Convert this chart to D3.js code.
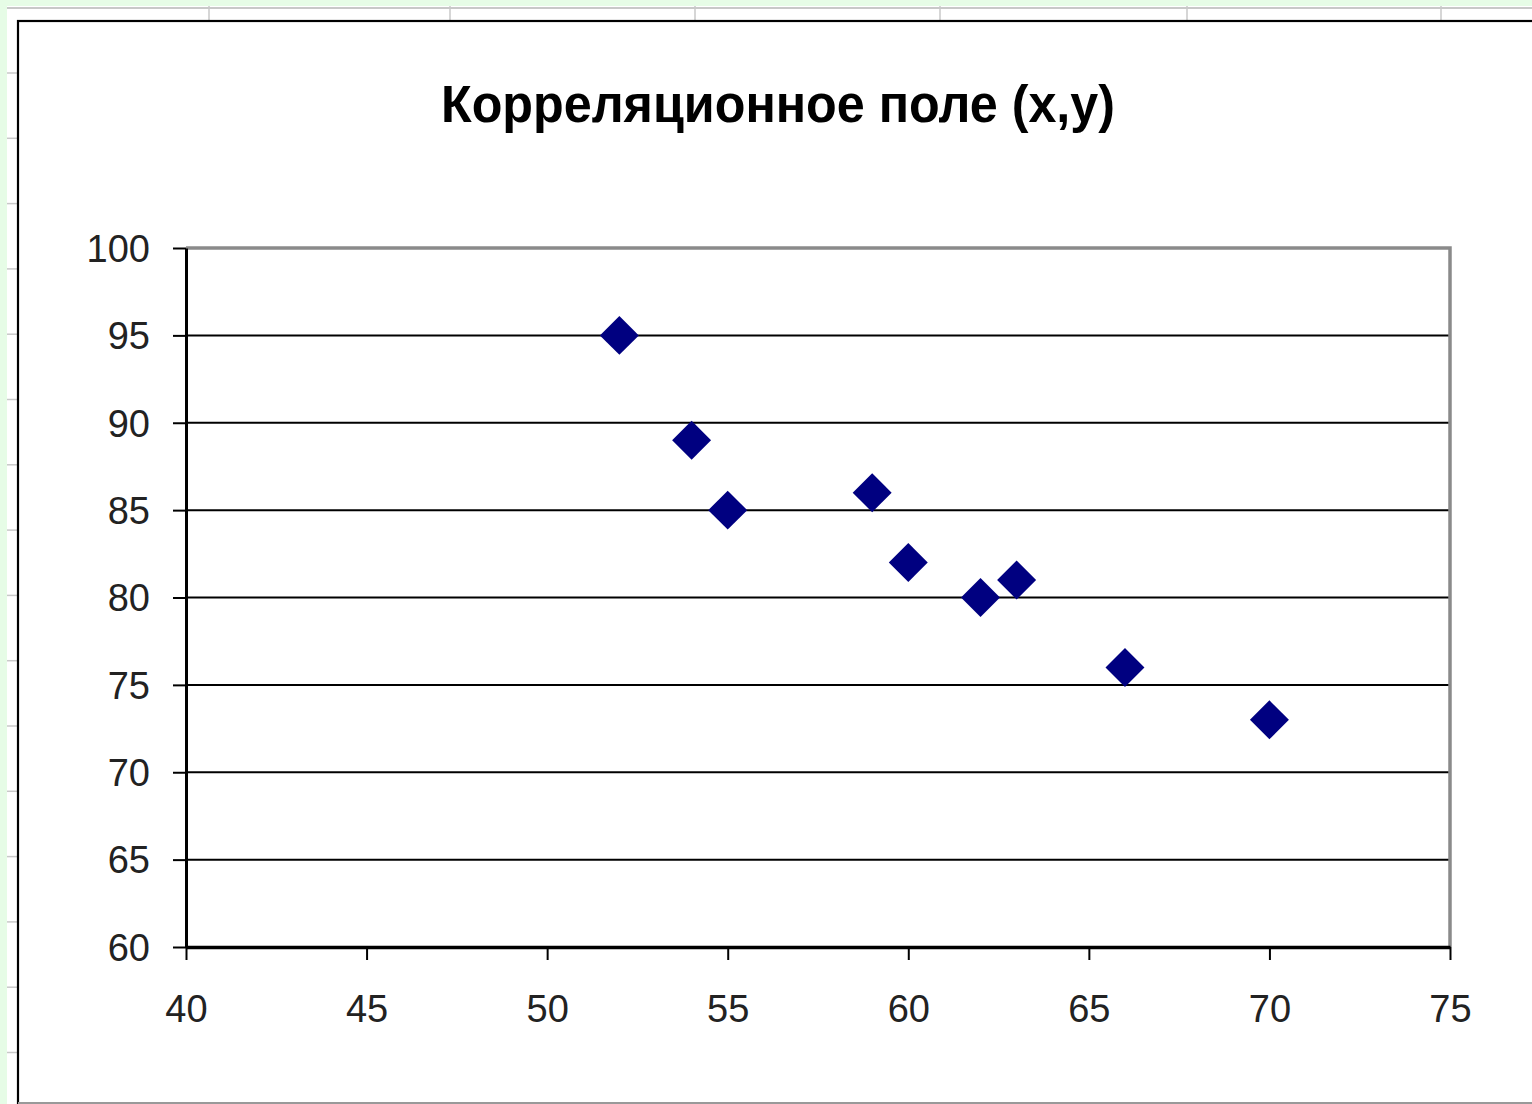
<!DOCTYPE html>
<html>
<head>
<meta charset="utf-8">
<script src="https://cdn.jsdelivr.net/npm/d3@7"></script>
<style>
  html, body { margin: 0; padding: 0; background: #e6fce6; overflow: hidden; }
  svg { display: block; }
</style>
</head>
<body>
<svg id="chart" width="1532" height="1104"></svg>
<script>
// ---- data ----
const title = "Корреляционное поле (x,y)";
const xValues = [52, 54, 55, 59, 60, 62, 63, 66, 70];
const yValues = [95, 89, 85, 86, 82, 80, 81, 76, 73];
const xTicks = [40, 45, 50, 55, 60, 65, 70, 75];
const yTicks = [60, 65, 70, 75, 80, 85, 90, 95, 100];
const xDomain = [40, 75];
const yDomain = [60, 100];

// ---- layout ----
const W = 1532, H = 1104;
const plot = { left: 186, right: 1450, top: 248, bottom: 947 };
const svg = d3.select("#chart");

// spreadsheet background (cells peeking around the chart object)
svg.append("rect").attr("x", 0).attr("y", 0).attr("width", W).attr("height", H).attr("fill", "#e6fce6");
svg.append("rect").attr("x", 7).attr("y", 6).attr("width", W - 7).attr("height", H - 6).attr("fill", "#ffffff");
svg.append("line").attr("x1", 7).attr("x2", W).attr("y1", 8).attr("y2", 8)
  .attr("stroke", "#c8c8c8").attr("stroke-width", 2);
const colLines = [209, 450, 695, 940, 1187, 1441];
svg.selectAll(".col").data(colLines).join("line")
  .attr("x1", d => d).attr("x2", d => d).attr("y1", 6).attr("y2", 21)
  .attr("stroke", "#c8c8c8").attr("stroke-width", 1.5);
const rowLines = d3.range(0, 16).map(i => 73 + i * 65.3).filter(v => v < H);
svg.selectAll(".row").data(rowLines).join("line")
  .attr("x1", 7).attr("x2", 17).attr("y1", d => d).attr("y2", d => d)
  .attr("stroke", "#c8c8c8").attr("stroke-width", 1.5);

// chart object
svg.append("rect").attr("x", 18).attr("y", 21).attr("width", W + 10).attr("height", H - 21 + 10)
  .attr("fill", "#ffffff").attr("stroke", "#000").attr("stroke-width", 2.2);
svg.append("line").attr("x1", 18).attr("x2", W).attr("y1", 1103).attr("y2", 1103)
  .attr("stroke", "#999").attr("stroke-width", 2);

// title
svg.append("text")
  .attr("x", 778).attr("y", 122)
  .attr("text-anchor", "middle")
  .attr("font-family", "Liberation Sans, Arial, sans-serif")
  .attr("font-weight", "bold")
  .attr("font-size", 51)
  .attr("textLength", 674)
  .attr("lengthAdjust", "spacingAndGlyphs")
  .attr("fill", "#000")
  .text(title);

// scales
const x = d3.scaleLinear().domain(xDomain).range([plot.left, plot.right]);
const y = d3.scaleLinear().domain(yDomain).range([plot.bottom, plot.top]);

// gridlines
svg.append("g").selectAll("line")
  .data(yTicks.filter(t => t > yDomain[0] && t < yDomain[1]))
  .join("line")
  .attr("x1", plot.left).attr("x2", plot.right)
  .attr("y1", d => y(d)).attr("y2", d => y(d))
  .attr("stroke", "#000").attr("stroke-width", 2);

// plot border (top & right gray)
svg.append("path")
  .attr("d", `M${plot.left},${y(yDomain[1])}H${x(xDomain[1])}V${y(yDomain[0])}`)
  .attr("fill", "none").attr("stroke", "#8a8a8a").attr("stroke-width", 3.5);

// axes
const fontFam = "Liberation Sans, Arial, sans-serif";
const yAxis = svg.append("g")
  .attr("transform", `translate(${plot.left},0)`)
  .call(d3.axisLeft(y).tickValues(yTicks).tickSize(13).tickPadding(23).tickSizeOuter(0));
yAxis.select(".domain").attr("stroke", "#000").attr("stroke-width", 3);
yAxis.selectAll(".tick line").attr("stroke", "#000").attr("stroke-width", 2);
yAxis.selectAll(".tick text")
  .attr("font-family", fontFam).attr("font-size", 38).attr("fill", "#222")
  .attr("dy", "0.35em");

const xAxis = svg.append("g")
  .attr("transform", `translate(0,${plot.bottom})`)
  .call(d3.axisBottom(x).tickValues(xTicks).tickSize(13).tickSizeOuter(0));
xAxis.select(".domain").attr("stroke", "#000").attr("stroke-width", 3.5);
xAxis.selectAll(".tick line").attr("stroke", "#000").attr("stroke-width", 2);
xAxis.selectAll(".tick text")
  .attr("font-family", fontFam).attr("font-size", 38).attr("fill", "#222")
  .attr("y", 62).attr("dy", "0.35em");

// points (diamonds)
const points = xValues.map((v, i) => ({ x: v, y: yValues[i] }));
const diamond = d3.symbol().type(d3.symbolDiamond2).size(2 * 22 * 22);
svg.append("g").selectAll("path")
  .data(points)
  .join("path")
  .attr("transform", d => `translate(${x(d.x)},${y(d.y)})`)
  .attr("d", diamond)
  .attr("fill", "#000080");
</script>
</body>
</html>
